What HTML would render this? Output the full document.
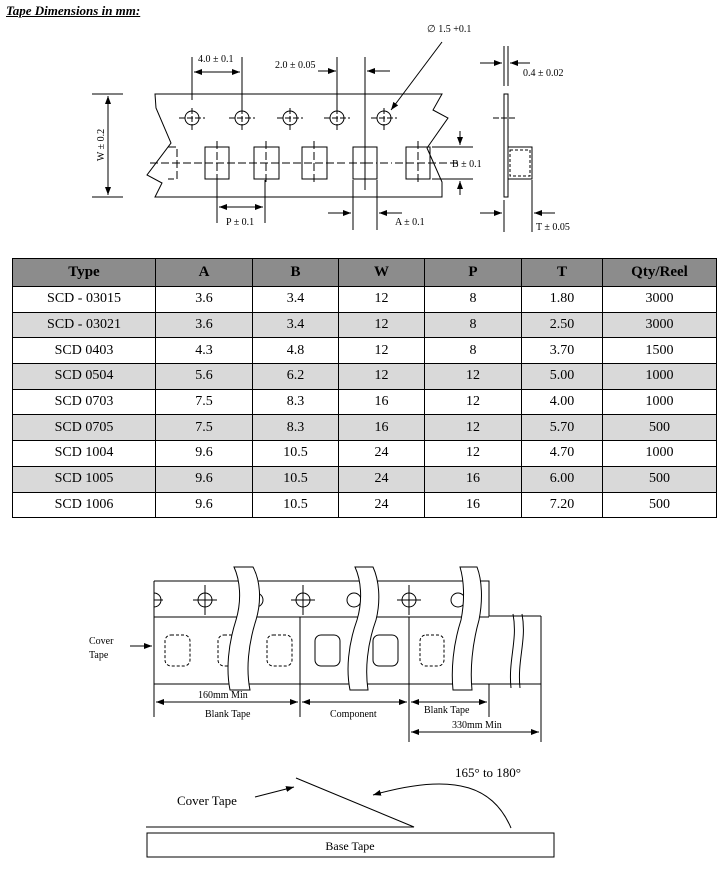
<!DOCTYPE html>
<html><head><meta charset="utf-8"><style>
body{margin:0;background:#fff;width:728px;height:872px;position:relative;overflow:hidden;font-family:"Liberation Serif",serif}
.title{position:absolute;left:6px;top:3px;font-size:13px;font-weight:bold;font-style:italic;text-decoration:underline}
table{position:absolute;left:12px;top:258px;border-collapse:collapse;font-size:14px}
td,th{border:1px solid #000;text-align:center;padding:0;height:24.7px}
th{background:#8c8c8c;height:27px;font-size:15px}
tr.g td{background:#d9d9d9}
svg{position:absolute;left:0;top:0}
</style></head><body>
<div class="title">Tape Dimensions in mm:</div>
<table>
<tr><th style="width:142px">Type</th><th style="width:96px">A</th><th style="width:85px">B</th><th style="width:85px">W</th><th style="width:96px">P</th><th style="width:80px">T</th><th style="width:113px">Qty/Reel</th></tr>
<tr><td>SCD - 03015</td><td>3.6</td><td>3.4</td><td>12</td><td>8</td><td>1.80</td><td>3000</td></tr>
<tr class="g"><td>SCD - 03021</td><td>3.6</td><td>3.4</td><td>12</td><td>8</td><td>2.50</td><td>3000</td></tr>
<tr><td>SCD 0403</td><td>4.3</td><td>4.8</td><td>12</td><td>8</td><td>3.70</td><td>1500</td></tr>
<tr class="g"><td>SCD 0504</td><td>5.6</td><td>6.2</td><td>12</td><td>12</td><td>5.00</td><td>1000</td></tr>
<tr><td>SCD 0703</td><td>7.5</td><td>8.3</td><td>16</td><td>12</td><td>4.00</td><td>1000</td></tr>
<tr class="g"><td>SCD 0705</td><td>7.5</td><td>8.3</td><td>16</td><td>12</td><td>5.70</td><td>500</td></tr>
<tr><td>SCD 1004</td><td>9.6</td><td>10.5</td><td>24</td><td>12</td><td>4.70</td><td>1000</td></tr>
<tr class="g"><td>SCD 1005</td><td>9.6</td><td>10.5</td><td>24</td><td>16</td><td>6.00</td><td>500</td></tr>
<tr><td>SCD 1006</td><td>9.6</td><td>10.5</td><td>24</td><td>16</td><td>7.20</td><td>500</td></tr>
</table>
<svg width="728" height="872" viewBox="0 0 728 872" font-family="Liberation Serif, serif" font-size="10" stroke="#000" fill="none" stroke-width="1">
<defs><marker id="a" markerWidth="8" markerHeight="6" refX="8" refY="3" orient="auto" markerUnits="userSpaceOnUse"><path d="M0,0L8,3L0,6z" fill="#000" stroke="none"/></marker></defs>
<!-- top tape -->
<path d="M155,94H442L433,110L448,118L427,148L442,182V197H155L162,183L147,175L171,143L156,108Z"/>
<g>
<circle cx="192" cy="118" r="7"/><circle cx="242" cy="118" r="7"/><circle cx="290" cy="118" r="7"/><circle cx="337" cy="118" r="7"/><circle cx="384" cy="118" r="7"/>
<path d="M179,118h26M229,118h26M277,118h26M324,118h26M371,118h26M192,108v24M242,108v24M290,108v24M337,108v24M384,108v24" stroke-dasharray="6,2"/>
<rect x="205" y="147" width="24" height="32"/><rect x="254" y="147" width="25" height="32"/><rect x="302" y="147" width="25" height="32"/><rect x="353" y="147" width="24" height="32"/><rect x="406" y="147" width="24" height="32"/>
<path d="M168,147h9v32h-9M150,163h195M349,163h16M365,163h12M380,163h12M395,163h63" stroke-dasharray="8,3"/>
<path d="M217,141v57M266,141v44M314,141v44M418,141v44" stroke-dasharray="8,3"/>
</g>
<path d="M192,57v43M242,57v56M337,57v56M365,57v133"/>
<path d="M194,72H240" marker-end="url(#a)"/><path d="M240,72H194" marker-end="url(#a)"/>
<path d="M318,71H336" marker-end="url(#a)"/><path d="M390,71H367" marker-end="url(#a)"/>
<path d="M442,42L391,110" marker-end="url(#a)"/>
<path d="M92,94h31M92,197h31"/><path d="M108,145V96" marker-end="url(#a)"/><path d="M108,145V195" marker-end="url(#a)"/>
<path d="M432,147h41M432,179h41"/><path d="M460,131v14" marker-end="url(#a)"/><path d="M460,195v-14" marker-end="url(#a)"/>
<path d="M217,180v43M265,180v43"/><path d="M240,207H219" marker-end="url(#a)"/><path d="M240,207H263" marker-end="url(#a)"/>
<path d="M353,180v50M377,180v50"/><path d="M328,213H351" marker-end="url(#a)"/><path d="M402,213H379" marker-end="url(#a)"/>
<rect x="504" y="94" width="4" height="103"/><rect x="508" y="147" width="24" height="32"/>
<rect x="510" y="150" width="20" height="26" stroke-dasharray="3,2"/>
<path d="M493,118h24" stroke-dasharray="6,2"/>
<path d="M504,46v40M508,46v40"/><path d="M480,63H502" marker-end="url(#a)"/><path d="M530,63H510" marker-end="url(#a)"/>
<path d="M504,200v32M532,180v52"/><path d="M480,213H502" marker-end="url(#a)"/><path d="M555,213H534" marker-end="url(#a)"/>
<g fill="#000" stroke="none">
<text x="198" y="62">4.0 ± 0.1</text><text x="275" y="68">2.0 ± 0.05</text><text x="427" y="32">∅ 1.5 +0.1</text>
<text x="523" y="76">0.4 ± 0.02</text><text x="452" y="167">B ± 0.1</text><text x="226" y="225">P ± 0.1</text>
<text x="395" y="225">A ± 0.1</text><text x="536" y="230">T ± 0.05</text>
<text transform="translate(104,145) rotate(-90)" text-anchor="middle">W ± 0.2</text>
</g>
<!-- bottom tape -->
<path d="M154,581H489V616H541M154,581V684H541M154,617H489"/>
<path d="M541,616V684"/>
<circle cx="205" cy="600" r="7"/><circle cx="303" cy="600" r="7"/><circle cx="409" cy="600" r="7"/>
<path d="M154,593A7,7 0 0 1 154,607"/>
<circle cx="256" cy="600" r="7"/><circle cx="354" cy="600" r="7"/><circle cx="458" cy="600" r="7"/>
<path d="M193,600h24M291,600h24M397,600h24M205,585v30M303,585v30M409,585v30M154,600h9"/>
<rect x="165" y="635" width="25" height="31" rx="6" stroke-dasharray="3,2"/>
<rect x="218" y="635" width="25" height="31" rx="6" stroke-dasharray="3,2"/>
<rect x="267" y="635" width="25" height="31" rx="6" stroke-dasharray="3,2"/>
<rect x="315" y="635" width="25" height="31" rx="6"/><rect x="373" y="635" width="25" height="31" rx="6"/>
<rect x="420" y="635" width="24" height="31" rx="6" stroke-dasharray="3,2"/>
<g fill="#fff">
<path d="M234,567C240,580 242,600 236,620C228,645 226,670 230,690H250C246,670 248,645 256,620C262,600 260,580 253,567Z"/>
<path d="M355,567C361,580 363,600 357,620C348,645 346,670 350,690H368C365,670 367,645 376,620C381,600 379,580 373,567Z"/>
<path d="M460,567C464,580 465,600 461,620C453,645 451,670 453,690H472C470,670 472,645 479,620C483,600 482,580 477,567Z"/>
</g>
<path d="M513,614C518,640 508,660 511,688M522,614C527,640 517,660 520,688"/>
<path d="M154,684v33M300,617v100M409,617v125M489,684v33M541,684v58"/>
<path d="M227,702H156" marker-end="url(#a)"/><path d="M227,702H298" marker-end="url(#a)"/>
<path d="M355,702H302" marker-end="url(#a)"/><path d="M355,702H407" marker-end="url(#a)"/>
<path d="M449,702H411" marker-end="url(#a)"/><path d="M449,702H487" marker-end="url(#a)"/>
<path d="M475,732H411" marker-end="url(#a)"/><path d="M475,732H539" marker-end="url(#a)"/>
<path d="M130,646H152" marker-end="url(#a)"/>
<g fill="#000" stroke="none">
<text x="198" y="698">160mm Min</text><text x="205" y="717">Blank Tape</text><text x="330" y="717">Component</text>
<text x="424" y="713">Blank Tape</text><text x="452" y="728">330mm Min</text>
<text x="89" y="644">Cover</text><text x="89" y="658">Tape</text>
</g>
<!-- peel diagram -->
<path d="M296,778L414,827H146"/>
<rect x="147" y="833" width="407" height="24"/>
<path d="M255,797L294,787" marker-end="url(#a)"/>
<path d="M511,828C495,790 460,770 373,795" marker-end="url(#a)"/>
<g fill="#000" stroke="none" font-size="13">
<text x="455" y="777">165° to 180°</text><text x="177" y="805">Cover Tape</text><text x="350" y="850" text-anchor="middle" font-size="12">Base Tape</text>
</g>
</svg>
</body></html>
